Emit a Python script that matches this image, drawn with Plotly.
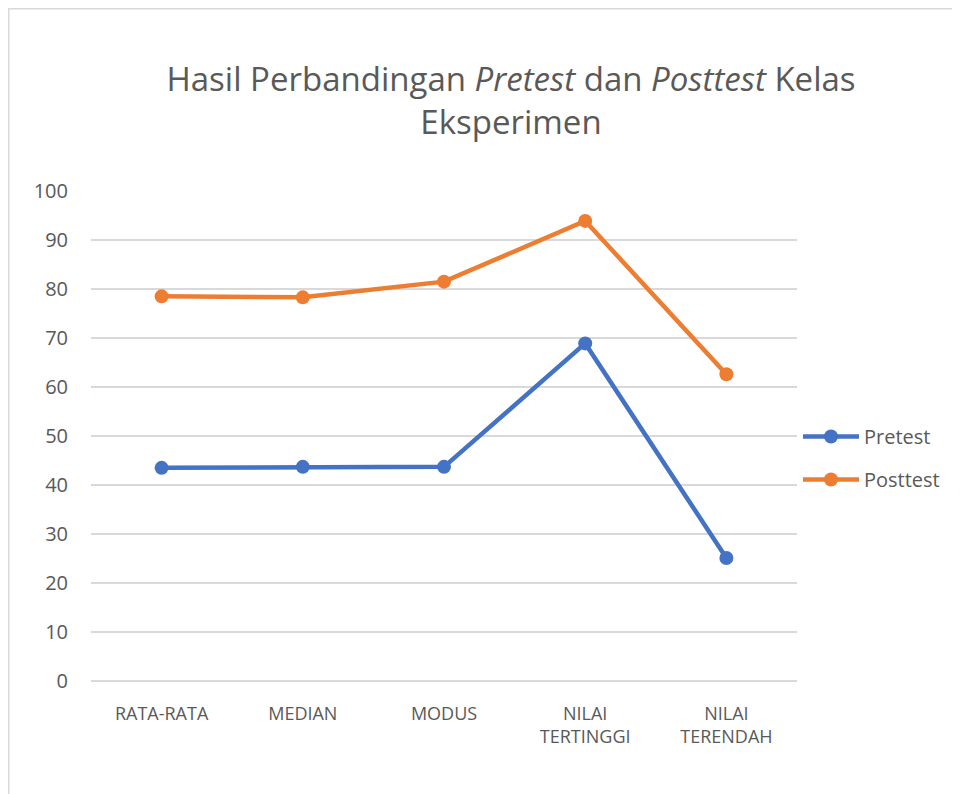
import plotly.graph_objects as go

categories = ["RATA-RATA", "MEDIAN", "MODUS", "NILAI<br>TERTINGGI", "NILAI<br>TERENDAH"]
pretest = [43.5, 43.7, 43.7, 68.9, 25.1]
posttest = [78.5, 78.3, 81.5, 93.9, 62.6]
y_ticks = [0, 10, 20, 30, 40, 50, 60, 70, 80, 90, 100]

FONT = "Open Sans"
TXT = "#595959"

fig = go.Figure()
fig.add_trace(go.Scatter(
    x=categories, y=pretest, name="Pretest", mode="lines+markers", legendgroup="a",
    line=dict(color="#4472C4", width=4.5), marker=dict(size=14, color="#4472C4"),
))
fig.add_trace(go.Scatter(
    x=categories, y=posttest, name="Posttest", mode="lines+markers", legendgroup="b",
    line=dict(color="#ED7D31", width=4.5), marker=dict(size=14, color="#ED7D31"),
))

# page body adds 8px margin; figure coordinates are screen - 8
W, H = 952, 786
L, R, T, B = 83, 163, 183, 113
pw, ph = W - L - R, H - T - B

def px_to_paper_x(px):
    return (px - L) / pw

def px_to_paper_y(py):
    return (H - B - py) / ph

fig.update_layout(
    width=W, height=H,
    margin=dict(l=L, r=R, t=T, b=B),
    paper_bgcolor="white", plot_bgcolor="white",
    font=dict(family=FONT, color=TXT, size=18),
    title=dict(
        text="Hasil Perbandingan <i>Pretest</i> dan <i>Posttest</i> Kelas<br>Eksperimen",
        x=503 / W, xanchor="center", xref="container",
        y=1 - 83 / H, yanchor="middle",
        font=dict(family=FONT, size=33, color=TXT),
    ),
    xaxis=dict(
        type="category", range=[-0.5, 4.5], showgrid=False, zeroline=False,
        showline=False, ticks="", tickfont=dict(size=18, color=TXT),
        ticklabelstandoff=20,
    ),
    yaxis=dict(
        range=[0, 100], tickvals=y_ticks, showgrid=True, gridcolor="#D9D9D9",
        gridwidth=1.5, zeroline=True, zerolinecolor="#D9D9D9", zerolinewidth=1.5,
        showline=False, ticks="",
        tickfont=dict(size=20, color=TXT), ticklabelstandoff=22,
    ),
    legend=dict(
        x=px_to_paper_x(790), xanchor="left", y=px_to_paper_y(450), yanchor="middle",
        font=dict(size=20, color=TXT), itemwidth=56, traceorder="grouped",
        tracegroupgap=14, bgcolor="rgba(0,0,0,0)",
    ),
    showlegend=True,
    shapes=[dict(
        type="rect", xref="paper", yref="paper",
        x0=px_to_paper_x(0.75), x1=px_to_paper_x(1000),
        y0=px_to_paper_y(900), y1=px_to_paper_y(0.75),
        line=dict(color="#D9D9D9", width=1.5), fillcolor="rgba(0,0,0,0)", layer="below",
    )],
)

fig.write_html("out.html")
